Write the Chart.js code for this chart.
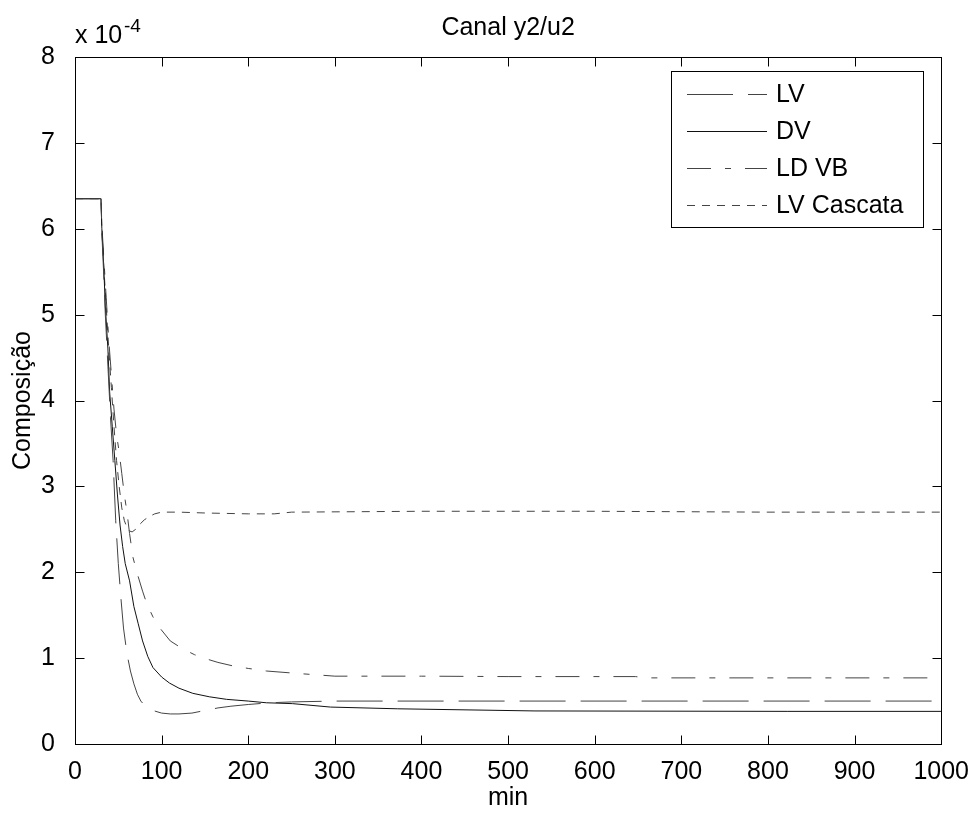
<!DOCTYPE html>
<html>
<head>
<meta charset="utf-8">
<script src="https://cdn.jsdelivr.net/npm/chart.js@4/dist/chart.umd.min.js"></script>
<style>
	body{margin:0;background:#fff;}
	canvas{display:block;}
</style>
</head>
<body>
<canvas id="chart" width="974" height="814"></canvas>
<script>
// valores em unidades de 1e-4 (o eixo mostra "x 10^-4")
var lvX=[0,30,31,33,35,38,41,44,47,50,53,56,60,64,68,72,76,82,90,100,110,120,135,150,165,180,200,225,250,300,1000];
var lvY=[6.35,6.35,5.95,5.5,5.0,4.4,3.8,3.3,2.6,2.1,1.7,1.35,1.05,0.85,0.7,0.58,0.5,0.43,0.39,0.36,0.35,0.35,0.36,0.39,0.42,0.44,0.46,0.48,0.49,0.5,0.5];
var dvX=[0,30,31,33,35,38,40,43,46,49,52,55,58,63,68,73,78,84,90,100,109,120,136,155,175,200,221,251,295,372,531,823,1000];
var dvY=[6.35,6.35,6.0,5.6,5.1,4.6,4.1,3.7,3.3,2.9,2.55,2.3,2.1,1.9,1.6,1.4,1.2,1.02,0.89,0.78,0.71,0.65,0.59,0.55,0.52,0.5,0.48,0.47,0.43,0.41,0.385,0.38,0.38];
var ldX=[0,30,31,33,36,39,42,45,48,51,54,57,60,63,67,72,78,83,90,98,110,124,138,152,165,182,200,221,259,300,400,500,647,660,1000];
var ldY=[6.35,6.35,6.05,5.7,5.2,4.7,4.3,3.9,3.6,3.4,3.15,2.9,2.7,2.45,2.17,1.98,1.78,1.63,1.48,1.35,1.2,1.11,1.04,0.99,0.95,0.91,0.88,0.85,0.82,0.79,0.79,0.785,0.785,0.77,0.77];
var csX=[0,30,31,33,36,39,42,45,48,51,54,57,60,63,66,70,75,80,86,92,100,120,150,200,230,250,400,600,800,1000];
var csY=[6.35,6.35,6.0,5.6,5.1,4.6,4.15,3.7,3.3,3.0,2.75,2.6,2.52,2.48,2.47,2.5,2.56,2.61,2.65,2.68,2.7,2.7,2.69,2.68,2.68,2.7,2.71,2.71,2.7,2.7];
var labels=["LV","DV","LD VB","LV Cascata"];
var xTicks=[0,100,200,300,400,500,600,700,800,900,1000];
var yTicks=[0,1,2,3,4,5,6,7,8];

var fonte="'Liberation Sans', Arial, sans-serif";
var tam=25;

function pontos(xs,ys){
	var out=[];
	for(var i=0;i<xs.length;i++){
		out.push({x:xs[i],y:ys[i]});
	}
	return out;
}
function serie(label,xs,ys,cor,dash){
	return {label:label,data:pontos(xs,ys),showLine:true,pointRadius:0,borderWidth:1,
		borderColor:cor,borderDash:dash,tension:0,fill:false};
}

var moldura={
	id:"moldura",
	afterDraw:function(chart){
		var ctx=chart.ctx,a=chart.chartArea,sx=chart.scales.x,sy=chart.scales.y;
		var L=Math.round(a.left)+0.5,R=Math.round(a.right)+0.5,T=Math.round(a.top)+0.5,B=Math.round(a.bottom)+0.5;
		ctx.save();
		ctx.strokeStyle="#000";
		ctx.lineWidth=1;
		ctx.setLineDash([]);
		ctx.strokeRect(L,T,R-L,B-T);
		ctx.beginPath();
		sx.ticks.forEach(function(t){
			var px=Math.round(sx.getPixelForValue(t.value))+0.5;
			ctx.moveTo(px,B);ctx.lineTo(px,B-9);
			ctx.moveTo(px,T);ctx.lineTo(px,T+9);
		});
		sy.ticks.forEach(function(t){
			var py=Math.round(sy.getPixelForValue(t.value))+0.5;
			ctx.moveTo(L,py);ctx.lineTo(L+9,py);
			ctx.moveTo(R,py);ctx.lineTo(R-9,py);
		});
		ctx.stroke();

		// textos
		ctx.fillStyle="#000";
		ctx.font=tam+"px "+fonte;
		ctx.textAlign="center";
		ctx.textBaseline="middle";
		var cx=(a.left+a.right)/2;
		ctx.fillText("Canal y2/u2",cx,28);
		ctx.fillText("min",cx,798);
		ctx.save();
		ctx.translate(23,(a.top+a.bottom)/2);
		ctx.rotate(-Math.PI/2);
		ctx.fillText("Composição",0,0);
		ctx.restore();
		ctx.textAlign="left";
		ctx.textBaseline="alphabetic";
		ctx.fillText("x 10",75,43);
		ctx.font="19px "+fonte;
		ctx.fillText("-4",124,32);

		// legenda
		var bx=671.5,by=71.5,bw=252,bh=156;
		ctx.fillStyle="#fff";
		ctx.fillRect(bx,by,bw,bh);
		ctx.strokeStyle="#000";
		ctx.strokeRect(bx,by,bw,bh);
		ctx.font=tam+"px "+fonte;
		ctx.textBaseline="middle";
		chart.data.datasets.forEach(function(ds,i){
			var y=Math.round(by+22+i*37.3)+0.5;
			ctx.strokeStyle=ds.borderColor;
			ctx.setLineDash(ds.borderDash||[]);
			ctx.beginPath();
			ctx.moveTo(687,y);ctx.lineTo(767,y);
			ctx.stroke();
			ctx.setLineDash([]);
			ctx.fillStyle="#000";
			ctx.fillText(ds.label,776,y+1);
		});
		ctx.restore();
	}
};

var chart=new Chart("chart",{
	type:"scatter",
	data:{
		datasets:[
			serie(labels[0],lvX,lvY,"#444",[46,15]),
			serie(labels[1],dvX,dvY,"#111",[]),
			serie(labels[2],ldX,ldY,"#444",[24,14,6,14]),
			serie(labels[3],csX,csY,"#444",[8,7])
		]
	},
	options:{
		responsive:false,
		animation:false,
		devicePixelRatio:1,
		layout:{padding:{left:0,top:57,right:31,bottom:0}},
		plugins:{legend:{display:false},tooltip:{enabled:false},title:{display:false}},
		scales:{
			x:{
				type:"linear",min:0,max:1000,
				afterBuildTicks:function(s){s.ticks=xTicks.map(function(v){return {value:v};});},
				afterFit:function(s){s.height=70;},
				grid:{display:false},
				border:{display:false},
				ticks:{color:"#000",font:{size:tam,family:fonte},padding:5,maxRotation:0,autoSkip:false,
					callback:function(v){return String(v);}}
			},
			y:{
				type:"linear",min:0,max:8,
				afterBuildTicks:function(s){s.ticks=yTicks.map(function(v){return {value:v};});},
				afterFit:function(s){s.width=75;},
				grid:{display:false},
				border:{display:false},
				ticks:{color:"#000",font:{size:tam,family:fonte},padding:12,autoSkip:false,
					callback:function(v){return String(v);}}
			}
		}
	},
	plugins:[moldura]
});
</script>
</body>
</html>
